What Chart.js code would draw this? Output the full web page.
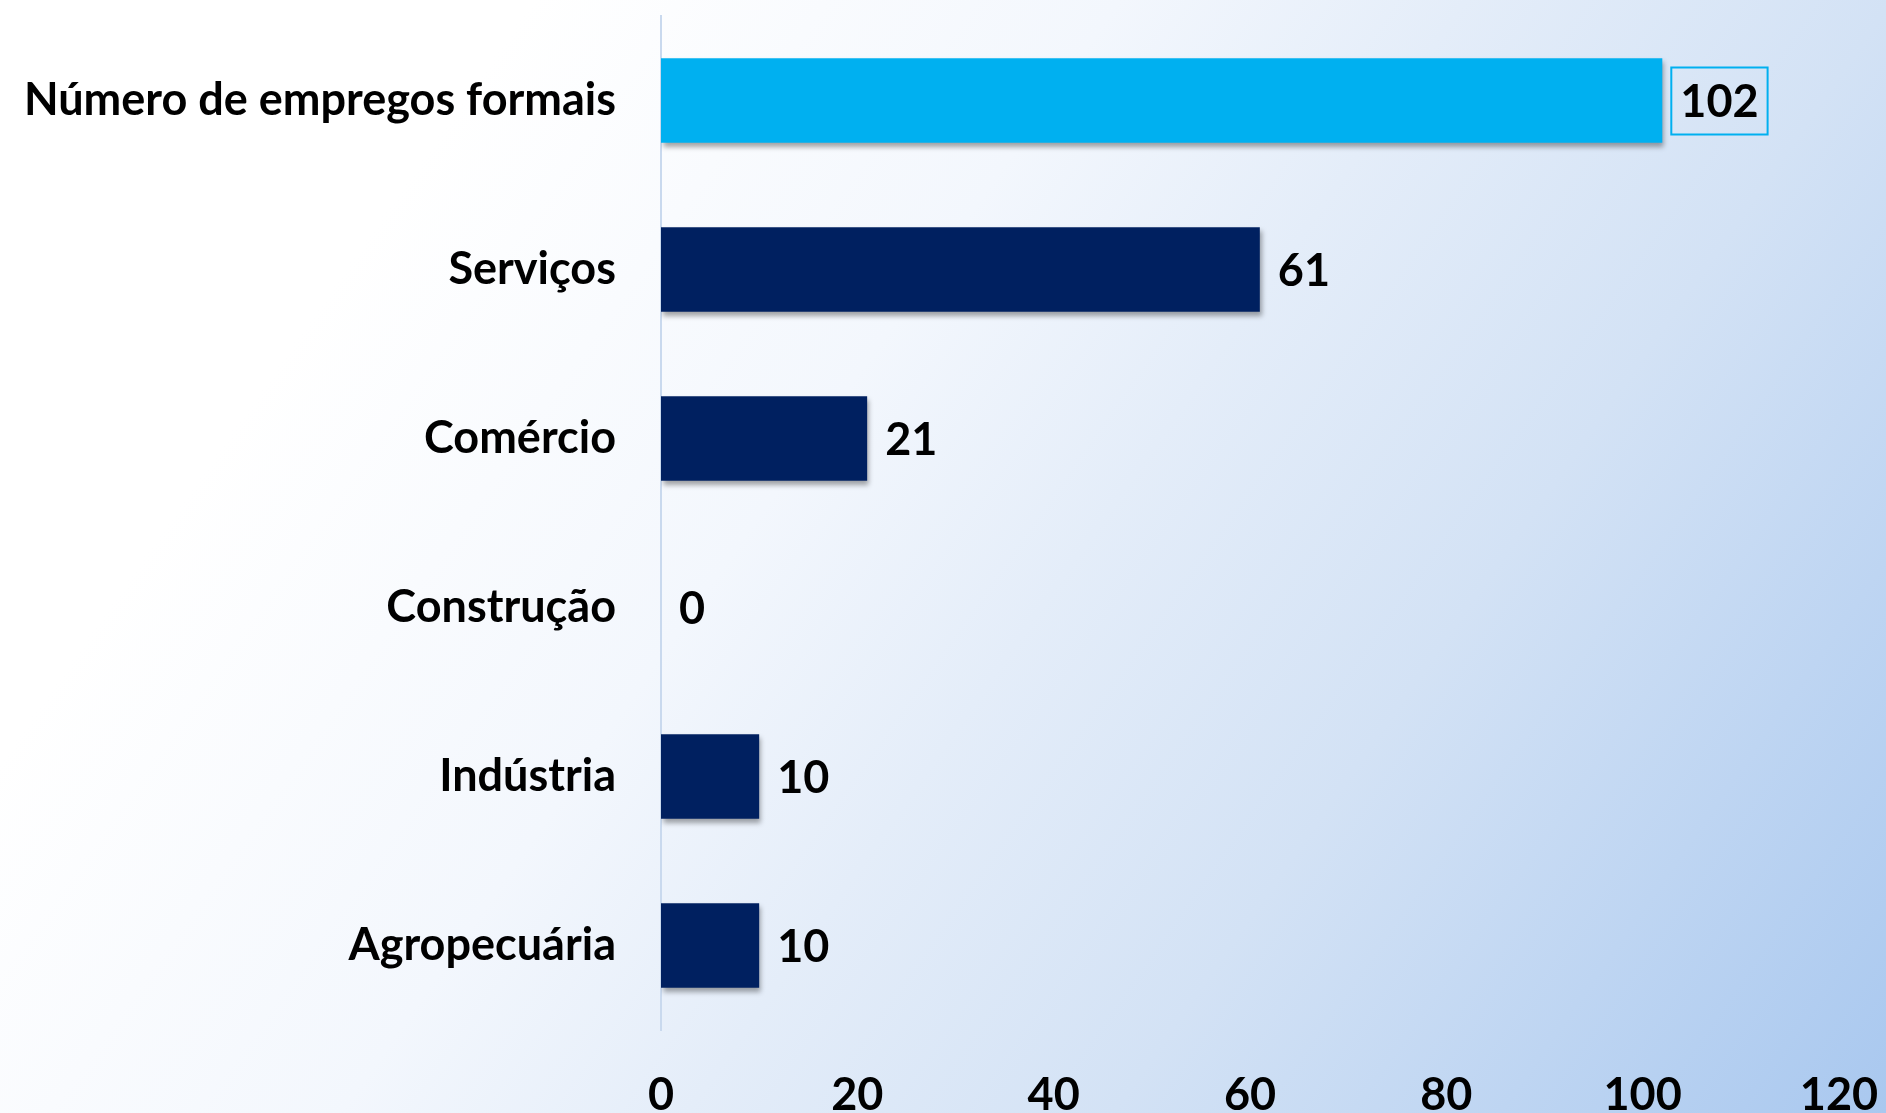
<!DOCTYPE html>
<html>
<head>
<meta charset="utf-8">
<script src="https://cdn.jsdelivr.net/npm/chart.js@4"></script>
<style>
    html, body { margin: 0; padding: 0; }
    body {
        width: 1886px;
        height: 1113px;
        background: linear-gradient(125deg, #ffffff 0%, #ffffff 20%, #f3f7fd 42%, #e4edf9 55%, #d3e2f5 71%, #a9c8ef 100%);
    }
    #wrap { width: 1886px; height: 1113px; }
</style>
</head>
<body>
<div id="wrap"><canvas id="empregosChart"></canvas></div>
<script>
const categories = ['Número de empregos formais', 'Serviços', 'Comércio', 'Construção', 'Indústria', 'Agropecuária'];
const values = [102, 61, 21, 0, 10, 10];
const barColors = ['#00b0f0', '#002060', '#002060', '#002060', '#002060', '#002060'];
const xTicks = [0, 20, 40, 60, 80, 100, 120];

const FONT = "'Lato', sans-serif";

// shadow under the bars
const barShadow = {
    id: 'barShadow',
    beforeDatasetDraw(chart) {
        const c = chart.ctx;
        c.save();
        c.shadowColor = 'rgba(0, 0, 0, 0.35)';
        c.shadowBlur = 5;
        c.shadowOffsetX = 2;
        c.shadowOffsetY = 4;
    },
    afterDatasetDraw(chart) {
        chart.ctx.restore();
    }
};

// value labels right of the bars, first one boxed
const valueLabels = {
    id: 'valueLabels',
    afterDatasetsDraw(chart) {
        const c = chart.ctx;
        const meta = chart.getDatasetMeta(0);
        c.save();
        c.font = 'bold 45px ' + FONT;
        c.fillStyle = '#000';
        c.textBaseline = 'middle';
        c.textAlign = 'left';
        meta.data.forEach((bar, i) => {
            const txt = String(values[i]);
            const x = bar.x + 18;
            const y = bar.y + 2;
            if (i === 0) {
                const w = c.measureText(txt).width;
                c.strokeStyle = '#00b0f0';
                c.lineWidth = 2;
                c.strokeRect(x - 9, y - 35, w + 18, 67);
            }
            c.fillText(txt, x, y);
        });
        c.restore();
    }
};

new Chart(document.getElementById('empregosChart'), {
    type: 'bar',
    data: {
        labels: categories,
        datasets: [{
            data: values,
            backgroundColor: barColors,
            borderWidth: 0,
            categoryPercentage: 1,
            barPercentage: 0.5
        }]
    },
    options: {
        indexAxis: 'y',
        responsive: true,
        maintainAspectRatio: false,
        animation: false,
        layout: {
            padding: { top: 16, right: 47, bottom: 0, left: 0 }
        },
        plugins: {
            legend: { display: false },
            tooltip: { enabled: false }
        },
        scales: {
            x: {
                min: 0,
                max: 120,
                afterBuildTicks(scale) {
                    scale.ticks = xTicks.map(v => ({ value: v }));
                },
                afterFit(scale) {
                    scale.height = 83;
                    scale.paddingLeft = 0;
                    scale.paddingRight = 0;
                },
                grid: { display: false, drawTicks: false },
                border: { display: false },
                ticks: {
                    color: '#000',
                    padding: 38,
                    maxRotation: 0,
                    font: { family: FONT, size: 45, weight: 'bold' }
                }
            },
            y: {
                afterFit(scale) {
                    scale.width = 661;
                    scale.paddingTop = 0;
                    scale.paddingBottom = 0;
                },
                grid: { display: false, drawTicks: false },
                border: { display: true, color: '#c9d9ee', width: 2 },
                ticks: {
                    color: '#000',
                    padding: 45,
                    font: { family: FONT, size: 45, weight: 'bold' }
                }
            }
        }
    },
    plugins: [barShadow, valueLabels]
});
</script>
</body>
</html>
